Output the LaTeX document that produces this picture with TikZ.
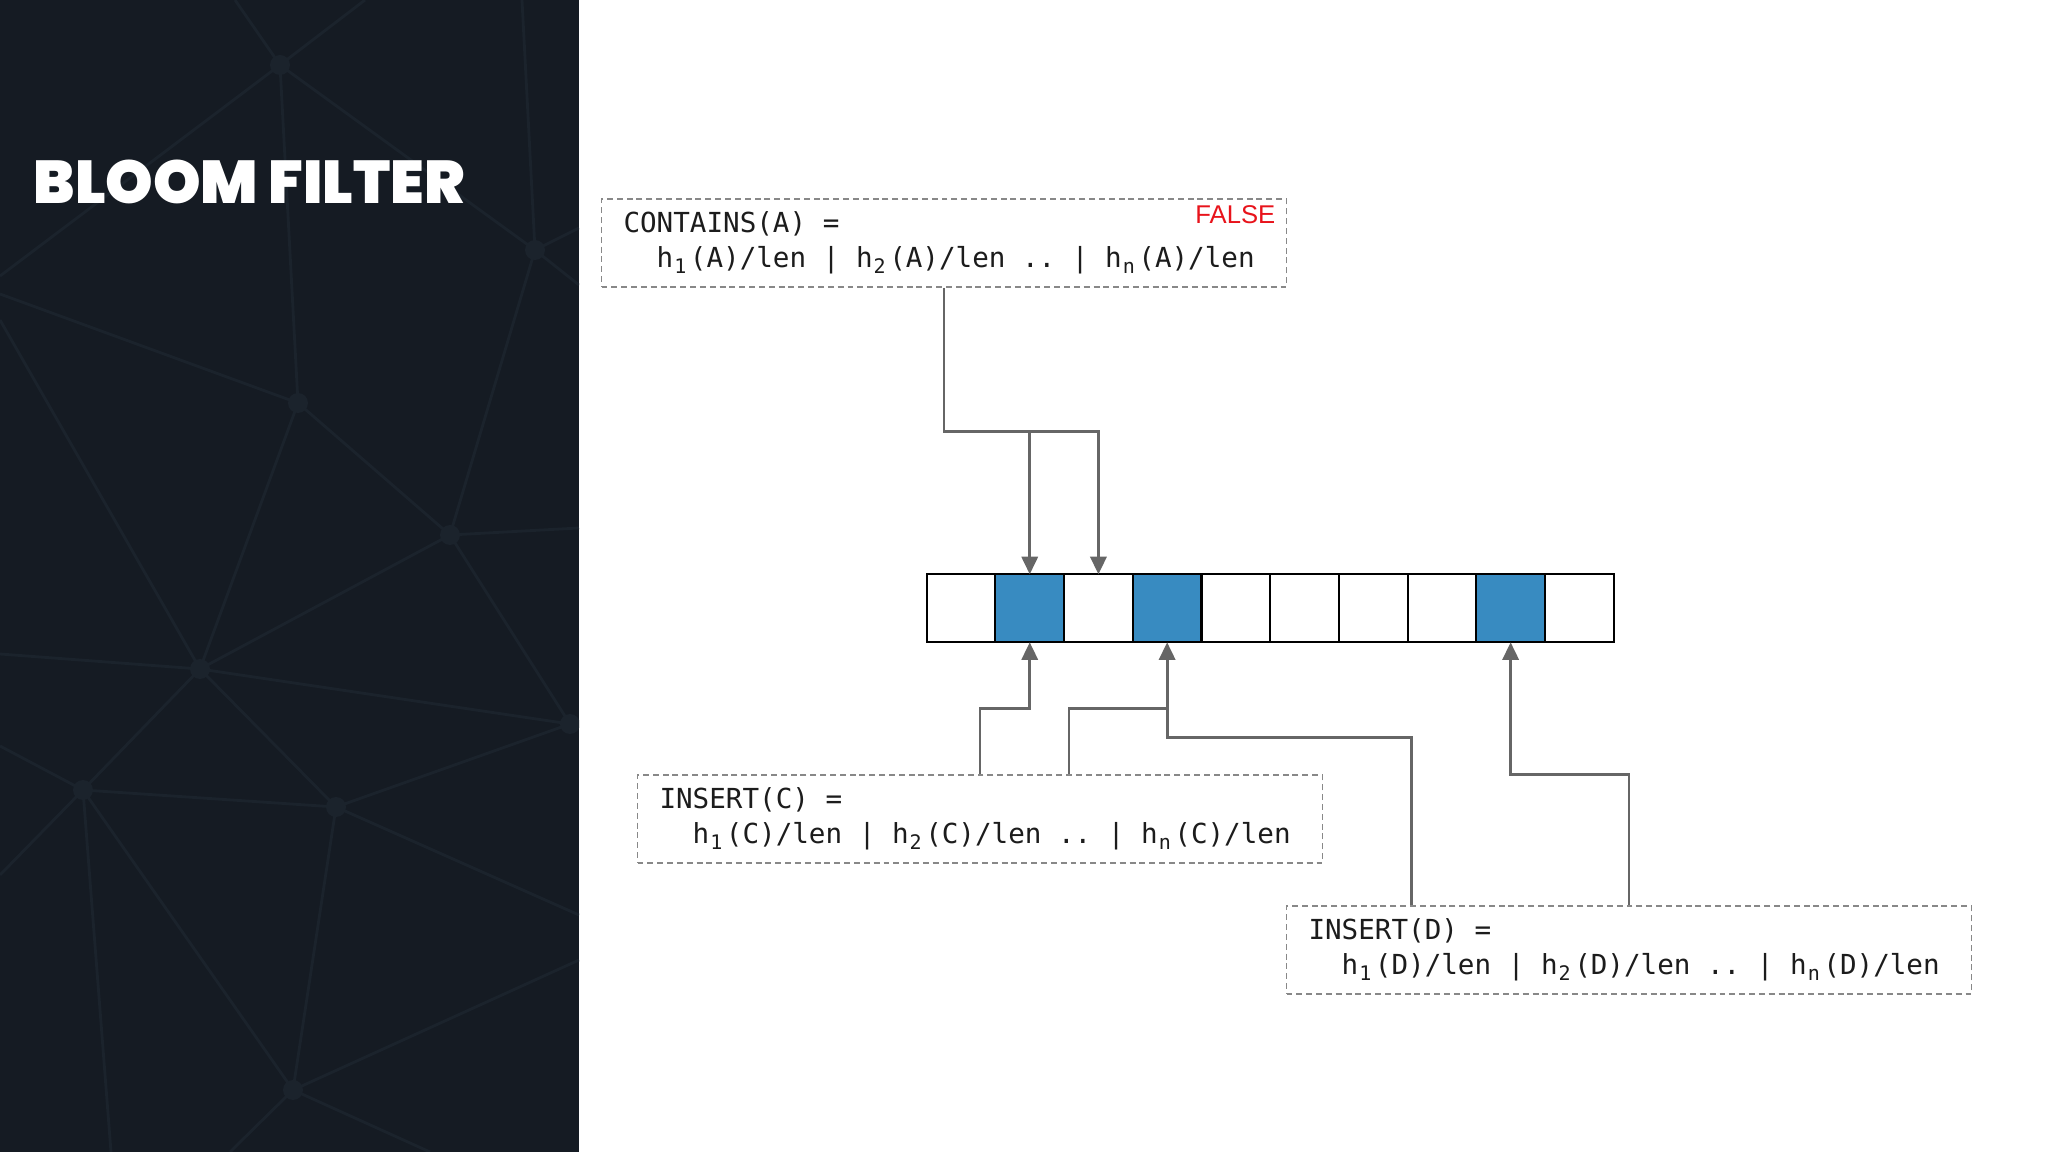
\documentclass[tikz,border=0pt]{standalone}
\usepackage{fontspec}
\usepackage{tikz}
\usetikzlibrary{arrows.meta,positioning,calc}
\newfontfamily\codefont{DejaVu Sans Mono}
\newfontfamily\labelfont{Liberation Sans}
\newfontfamily\titlefont{Poppins Black}
\definecolor{panelbg}{HTML}{151B23}
\definecolor{panelnet}{HTML}{1B232C}
\definecolor{bitblue}{HTML}{388BC1}
\definecolor{linkgrey}{HTML}{666666}
\definecolor{dashgrey}{HTML}{888888}
\definecolor{codeink}{HTML}{1C1C1C}
\definecolor{falsered}{HTML}{E8131B}
% spaces as wide as one monospace cell
\newcommand{\cellspaces}{\spaceskip=\fontcharwd\font`0 \xspaceskip=\spaceskip\relax}
% h with a subscript that keeps one monospace cell
\newcommand{\hsub}[1]{h\rlap{\hspace{0.3pt}\raisebox{-1.7pt}{\fontsize{5.7}{6}\selectfont #1}}\phantom{0}}

\begin{document}
\begin{tikzpicture}[
    opbox/.style={draw=dashgrey, line width=0.5pt, dash pattern=on 1.7pt off 1.1pt,
        minimum width=6.85cm, minimum height=0.88cm, inner xsep=0.22cm,
        text width=6.41cm, align=left, text=codeink,
        font=\codefont\fontsize{7.85}{9.96}\selectfont,
        execute at begin node={\cellspaces}},
    cell/.style={draw=black, line width=0.6pt, minimum width=0.687cm,
        minimum height=0.68cm, inner sep=0pt, outer sep=0pt},
    link/.style={draw=linkgrey, line width=0.8pt, -{Triangle[length=5pt,width=4.6pt]}},
    wire/.style={draw=linkgrey, line width=0.8pt}
]
    \useasboundingbox (0,0) rectangle (20.48,-11.52);
    \fill[white] (0,0) rectangle (20.48,-11.52);

    % Dark side panel with its faint network
    \fill[panelbg] (0,0) rectangle (5.79,-11.52);
    \begin{scope}
        \clip (0,0) rectangle (5.79,-11.52);
        \coordinate (p1) at (2.80,-0.65);
        \coordinate (p2) at (5.35,-2.50);
        \coordinate (p3) at (2.98,-4.03);
        \coordinate (p4) at (4.50,-5.35);
        \coordinate (p5) at (2.00,-6.69);
        \coordinate (p6) at (5.70,-7.24);
        \coordinate (p7) at (0.83,-7.90);
        \coordinate (p8) at (3.36,-8.07);
        \coordinate (p9) at (2.93,-10.90);
        \foreach \a/\b in {p1/p2,p1/p3,p2/p4,p3/p4,p3/p5,p5/p4,p4/p6,p5/p6,
                           p5/p7,p5/p8,p7/p8,p7/p9,p8/p6,p8/p9}
            \draw[panelnet, line width=0.8pt] (\a) -- (\b);
        \foreach \p/\q in {p1/{(0,-2.76)},p1/{(2.35,0)},p1/{(3.65,0)},p2/{(5.22,0)},
                           p2/{(5.79,-2.28)},p2/{(5.79,-2.85)},p3/{(0,-2.94)},
                           p5/{(0,-3.20)},p4/{(5.79,-5.28)},p5/{(0,-6.54)},
                           p7/{(0,-7.46)},p7/{(0,-8.75)},p7/{(1.11,-11.52)},
                           p8/{(5.79,-9.15)},p9/{(5.79,-9.60)},p9/{(4.30,-11.52)},
                           p9/{(2.30,-11.52)}}
            \draw[panelnet, line width=0.8pt] (\p) -- \q;
        \foreach \p in {p1,p2,p3,p4,p5,p6,p7,p8,p9}
            \fill[panelnet] (\p) circle (0.1);
    \end{scope}

    % Title
    \node[anchor=base west, inner sep=0pt, text=white,
        font=\titlefont\fontsize{17.2}{20}\selectfont] (title) at (0.33,-2.04) {BLOOM FILTER};

    % Bit array
    \foreach \k/\f in {0/white,1/bitblue,2/white,3/bitblue,4/white,
                       5/white,6/white,7/white,8/bitblue,9/white}
        \node[cell, fill=\f] (c\k) at ({9.267+0.687*(\k+0.5)},-6.083) {};

    % Operations
    \node[opbox] (contains) at (9.44,-2.43)
        {CONTAINS(A) =\\\phantom{00}\hsub{1}(A)/len | \hsub{2}(A)/len .. | \hsub{n}(A)/len};
    \node[anchor=base east, inner sep=0pt, text=falsered,
        font=\labelfont\fontsize{7.3}{8}\selectfont] (verdict) at (12.76,-2.24) {FALSE};
    \node[opbox] (insertc) at (9.80,-8.19)
        {INSERT(C) =\\\phantom{00}\hsub{1}(C)/len | \hsub{2}(C)/len .. | \hsub{n}(C)/len};
    \node[opbox] (insertd) at (16.29,-9.50)
        {INSERT(D) =\\\phantom{00}\hsub{1}(D)/len | \hsub{2}(D)/len .. | \hsub{n}(D)/len};

    % Lookup of A
    \draw[link] (contains.south) |- ($(c2.north)+(0,1.426)$) -- (c2.north);
    \draw[link] ($(c1.north)+(0,1.426)$) -- (c1.north);

    % Insert of C
    \draw[link] (insertc.north) |- ($(c1.south)+(0,-0.66)$) -- (c1.south);
    \draw[wire] ($(insertc.north)+(0.89,0)$) |- ($(c3.south)+(0,-0.66)$);

    % Insert of D
    \draw[link] ($(insertd.north)+(-2.174,0)$) |- ($(c3.south)+(0,-0.954)$) -- (c3.south);
    \draw[link] (insertd.north) |- ($(c8.south)+(0,-1.323)$) -- (c8.south);
\end{tikzpicture}
\end{document}
